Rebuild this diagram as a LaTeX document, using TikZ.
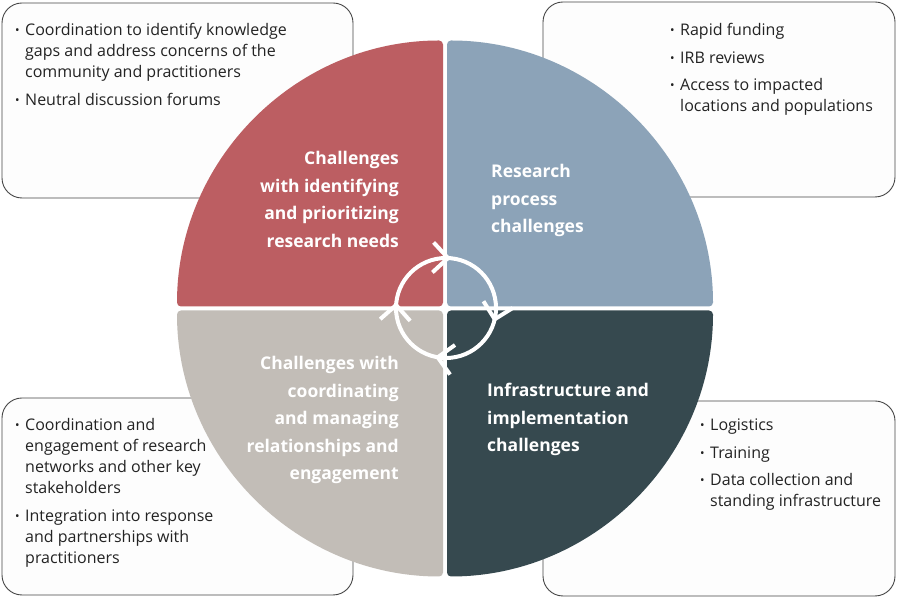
\documentclass[tikz,border=0pt]{standalone}
\usepackage{fontspec}
\setmainfont{Open Sans}
\definecolor{qred}{RGB}{188,94,98}
\definecolor{qblue}{RGB}{140,163,184}
\definecolor{qdark}{RGB}{54,73,79}
\definecolor{qgray}{RGB}{194,189,183}
\definecolor{boxfill}{RGB}{253,253,253}
\definecolor{boxline}{RGB}{70,70,70}
\definecolor{txt}{RGB}{35,35,35}
\newcommand\bul{\makebox[10pt][l]{\raisebox{1.2pt}{\fontsize{12}{12}\selectfont\textbullet}}}
\begin{document}
\begin{tikzpicture}[x=1pt,y=1pt,
  box/.style={draw=boxline, fill=boxfill, line width=0.9pt, rounded corners=20pt},
  quad/.style={rounded corners=4pt},
  bodytext/.style={anchor=base west, inner sep=0pt, text=txt, font=\fontsize{16}{21}\selectfont},
  titleE/.style={anchor=base east, inner sep=0pt, text=white, font=\fontsize{17.5}{27.5}\selectfont\bfseries},
  titleW/.style={anchor=base west, inner sep=0pt, text=white, font=\fontsize{17.5}{27.5}\selectfont\bfseries},
  ring/.style={draw=white, line width=4pt}]
\fill[white] (0,0) rectangle (897,599);
\useasboundingbox (0,0) rectangle (897,599);
% boxes
\draw[box] (2,401) rectangle (353,596);
\draw[box] (543,402) rectangle (895,597);
\draw[box] (2,4) rectangle (353,201);
\draw[box] (543,3) rectangle (895,198);
% quadrants
\fill[qred,quad] (443,292.5) -- ++(-266,0) arc[start angle=180,end angle=90,radius=266] -- cycle;
\fill[qblue,quad] (447,292.5) -- ++(0,266) arc[start angle=90,end angle=0,radius=266] -- cycle;
\fill[qdark,quad] (447,288.5) -- ++(266,0) arc[start angle=0,end angle=-90,radius=266] -- cycle;
\fill[qgray,quad] (443,288.5) -- ++(0,-266) arc[start angle=270,end angle=180,radius=266] -- cycle;
% cycle ring
\draw[ring] (446,291) circle[radius=50];
\foreach \a in {87.7,-13,260.5,176.6}
  \draw[ring, rotate around={\a:(446,291)}] (481,306) -- (496,291) -- (511,306);
% titles
\node[titleE] (tred) at (399,434) {\begin{tabular}[t]{@{}r@{}}Challenges\\with identifying\\and prioritizing\\research needs\end{tabular}};
\node[titleW] (tblue) at (491,421) {\begin{tabular}[t]{@{}l@{}}Research\\process\\challenges\end{tabular}};
\node[titleE] (tgray) at (399,229) {\begin{tabular}[t]{@{}r@{}}Challenges with\\coordinating\\and managing\\relationships and\\engagement\end{tabular}};
\node[titleW] (tdark) at (487,202) {\begin{tabular}[t]{@{}l@{}}Infrastructure and\\implementation\\challenges\end{tabular}};
% box texts
\node[bodytext] (btl) at (15,563) {\begin{tabular}[t]{@{}l@{}l@{}}\bul & Coordination to identify knowledge\\ & gaps and address concerns of the\\ & community and practitioners\\[6.5pt] \bul & Neutral discussion forums\end{tabular}};
\node[bodytext] (btr) at (670,563) {\begin{tabular}[t]{@{}l@{}l@{}}\bul & Rapid funding\\[6.5pt] \bul & IRB reviews\\[6.5pt] \bul & Access to impacted\\ & locations and populations\end{tabular}};
\node[bodytext] (bbl) at (15,168) {\begin{tabular}[t]{@{}l@{}l@{}}\bul & Coordination and\\ & engagement of research\\ & networks and other key\\ & stakeholders\\[6.5pt] \bul & Integration into response\\ & and partnerships with\\ & practitioners\end{tabular}};
\node[bodytext] (bbr) at (700,168) {\begin{tabular}[t]{@{}l@{}l@{}}\bul & Logistics\\[6.5pt] \bul & Training\\[6.5pt] \bul & Data collection and\\ & standing infrastructure\end{tabular}};
\end{tikzpicture}
\end{document}
